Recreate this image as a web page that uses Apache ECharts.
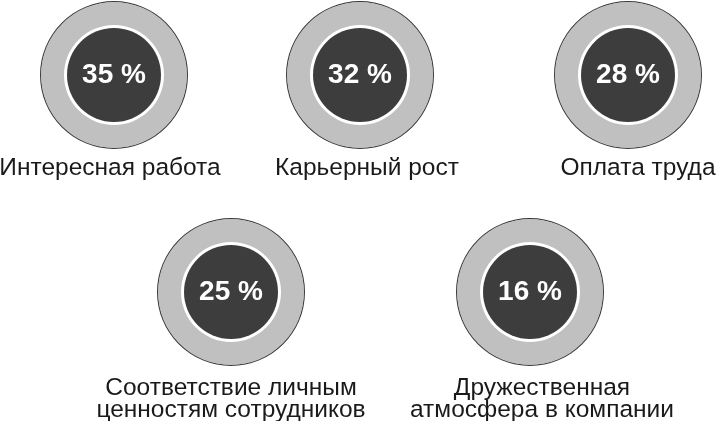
<!DOCTYPE html>
<html>
<head>
<meta charset="utf-8">
<script src="https://cdn.jsdelivr.net/npm/echarts@6/dist/echarts.min.js"></script>
<style>
html,body{margin:0;padding:0;background:#fff;}
#chart{width:719px;height:421px;}
</style>
</head>
<body>
<div id="chart"></div>
<script>
// Data
const categories = [
  'Интересная работа',
  'Карьерный рост',
  'Оплата труда',
  'Соответствие личным\nценностям сотрудников',
  'Дружественная\nатмосфера в компании'
];
const values = [35, 32, 28, 25, 16];
const valueSuffix = ' %';

// Layout (pixels)
const centers = [[114, 75], [360, 75], [628, 75], [231, 292], [530, 292]];
const labelPos = [[110, 168], [367, 168], [638, 168], [231, 399], [542, 399]];

const FONT = '"Liberation Sans", Arial, Helvetica, sans-serif';
const chart = echarts.init(document.getElementById('chart'), null, {renderer: 'canvas'});

const series = [];
values.forEach(function (v, i) {
  const item = [{ value: v, name: categories[i] }];
  const base = {
    type: 'pie',
    center: centers[i],
    silent: true,
    animation: false,
    startAngle: 90,
    label: { show: false },
    labelLine: { show: false },
    emphasis: { disabled: true }
  };
  series.push(Object.assign({}, base, {
    radius: [72.6, 74],
    itemStyle: { color: '#3a3a3a', borderWidth: 0 },
    data: item
  }));
  series.push(Object.assign({}, base, {
    radius: [50, 73],
    itemStyle: { color: '#c0c0c0', borderWidth: 0 },
    data: item
  }));
  series.push(Object.assign({}, base, {
    radius: [0, 47],
    itemStyle: { color: '#3d3d3d', borderWidth: 0 },
    label: {
      show: true,
      position: 'center',
      formatter: function (p) { return p.value + valueSuffix; },
      color: '#ffffff',
      fontFamily: FONT,
      fontSize: 28,
      fontWeight: 'bold'
    },
    data: item
  }));
});

const graphics = categories.map(function (c, i) {
  return {
    type: 'text',
    x: labelPos[i][0],
    y: labelPos[i][1],
    silent: true,
    style: {
      text: c,
      fill: '#1a1a1a',
      font: '24.5px ' + FONT,
      lineHeight: 22,
      align: 'center',
      verticalAlign: 'middle'
    }
  };
});

chart.setOption({
  backgroundColor: '#ffffff',
  animation: false,
  tooltip: { show: false },
  legend: { show: false },
  graphic: graphics,
  series: series
});
</script>
</body>
</html>
